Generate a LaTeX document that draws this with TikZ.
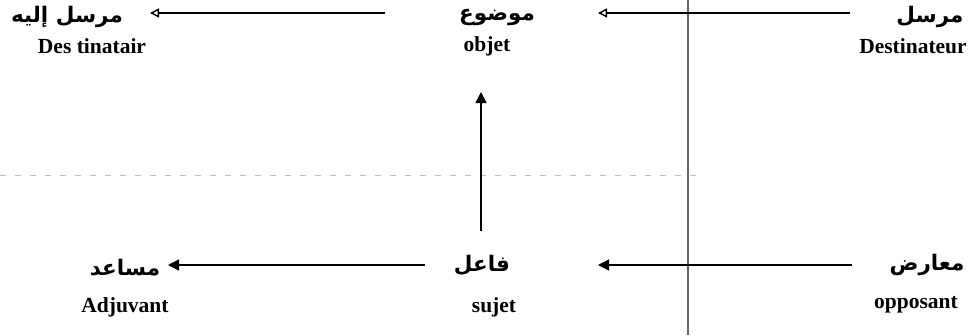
\documentclass[tikz,border=0pt]{standalone}
\usepackage{fontspec}
\setmainfont{Liberation Serif}
\newfontfamily\arabicfont[Script=Arabic]{DejaVu Sans}
\TeXXeTstate=1
\usetikzlibrary{arrows.meta}
\tikzset{
  lat/.style={inner sep=0pt, font=\fontsize{21.5}{24}\selectfont\bfseries},
  ar/.style={inner sep=0pt, font=\arabicfont\fontsize{21.5}{24}\selectfont\bfseries},
  openarrow/.style={line width=1.4pt, -{Triangle[open, length=9pt, width=9pt]}},
  fillarrow/.style={line width=1.5pt, -{Triangle[length=11pt, width=11pt]}},
  axisline/.style={draw=black!60, line width=1.5pt},
  faintline/.style={draw=black!25, line width=0.7pt, dash pattern=on 6pt off 9pt}
}
\begin{document}
\begin{tikzpicture}[x=1pt,y=-1pt]
\useasboundingbox (0,0) rectangle (975,335);
% axis lines
\coordinate (vtop) at (688,0);
\coordinate (vbot) at (688,335);
\draw[axisline] (vtop) -- (vbot);
\coordinate (hl) at (0,175);
\coordinate (hr) at (700,175);
\draw[faintline] (hl) -- (hr);
% top row
\node[ar] (ar1) at (67,17) {\beginR مرسل إليه\endR};
\node[lat] (la1) at (92,46) {Des tinatair};
\node[ar] (ar2) at (497,17) {\beginR موضوع\endR};
\node[lat] (la2) at (487,46) {objet};
\node[ar] (ar3) at (930,17) {\beginR مرسل\endR};
\node[lat] (la3) at (913,46) {Destinateur};
% bottom row
\node[ar] (ar4) at (125,268) {\beginR مساعد\endR};
\node[lat] (la4) at (125,307) {Adjuvant};
\node[ar] (ar5) at (482,265) {\beginR فاعل\endR};
\node[lat] (la5) at (494,307) {sujet};
\node[ar] (ar6) at (927,265) {\beginR معارض\endR};
\node[lat] (la6) at (916,305) {opposant};
% arrow end points
\coordinate (t1s) at (850,13);
\coordinate (t1e) at (598,13);
\coordinate (t2s) at (385,13);
\coordinate (t2e) at (150,13);
\coordinate (vs) at (481,231);
\coordinate (ve) at (481,92);
\coordinate (b1s) at (852,265);
\coordinate (b1e) at (598,265);
\coordinate (b2s) at (425,265);
\coordinate (b2e) at (168,265);
\draw[openarrow] (t1s) -- (t1e);
\draw[openarrow] (t2s) -- (t2e);
\draw[fillarrow] (vs) -- (ve);
\draw[fillarrow] (b1s) -- (b1e);
\draw[fillarrow] (b2s) -- (b2e);
\end{tikzpicture}
\end{document}
